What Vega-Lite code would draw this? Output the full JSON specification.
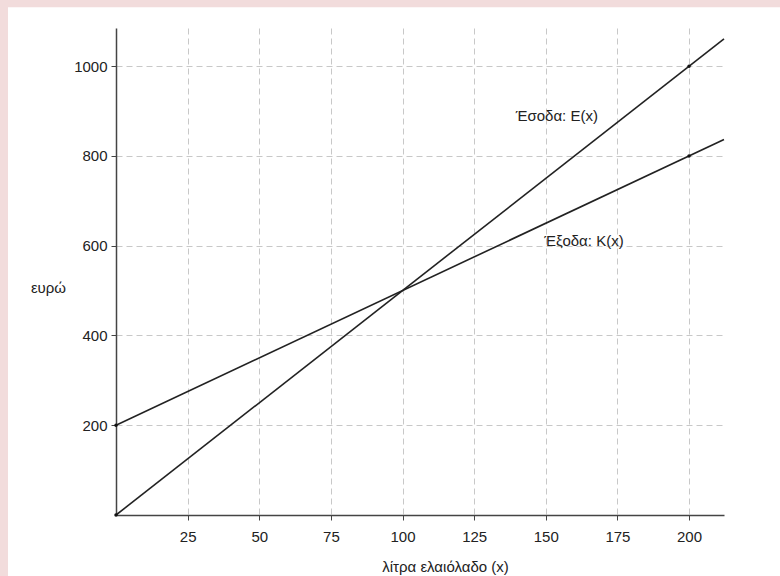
{
  "$schema": "https://vega.github.io/schema/vega-lite/v6.json",
  "width": 608,
  "height": 487,
  "autosize": {"type": "none"},
  "padding": {"left": 116, "top": 28, "right": 56, "bottom": 61},
  "background": "white",
  "config": {
    "view": {"stroke": null},
    "font": "Liberation Sans",
    "axis": {
      "labelFont": "Liberation Sans",
      "labelFontSize": 15,
      "labelColor": "#222",
      "titleFont": "Liberation Sans",
      "titleFontSize": 15,
      "titleFontWeight": "normal",
      "titleColor": "#222",
      "domainColor": "#444",
      "domainWidth": 1.5,
      "tickColor": "#444",
      "tickSize": 5,
      "gridColor": "#c8c8c8",
      "gridDash": [6, 4],
      "gridWidth": 1
    }
  },
  "datasets": {
    "lines": [
      {"series": "E", "x": 0, "y": 0},
      {"series": "E", "x": 212.2, "y": 1061},
      {"series": "K", "x": 0, "y": 200},
      {"series": "K", "x": 212.2, "y": 836.6}
    ],
    "points": [
      {"x": 0, "y": 0},
      {"x": 0, "y": 200},
      {"x": 200, "y": 1000},
      {"x": 200, "y": 800}
    ],
    "labels": [
      {"x": 139.5, "y": 890, "text": "Έσοδα: Ε(x)"},
      {"x": 149.5, "y": 610, "text": "Έξοδα: Κ(x)"}
    ],
    "frame": [
      {"x": -60, "x2": -37.7, "y": -300, "y2": 1400},
      {"x": -60, "x2": 300, "y": 1131.4, "y2": 1400}
    ]
  },
  "layer": [
    {
      "data": {"name": "frame"},
      "mark": {"type": "rect", "fill": "#f2dcdc", "stroke": null},
      "encoding": {
        "x": {"field": "x", "type": "quantitative", "scale": {"domain": [0, 212.2], "nice": false, "zero": false},
              "axis": {"values": [25, 50, 75, 100, 125, 150, 175, 200], "format": "d", "grid": true, "labelPadding": 9,
                       "title": "λίτρα ελαιόλαδο (x)", "titleX": 329, "titleY": 51, "titleBaseline": "middle", "titleAnchor": null, "titleAlign": "center"}},
        "x2": {"field": "x2"},
        "y": {"field": "y", "type": "quantitative", "scale": {"domain": [0, 1085], "nice": false, "zero": false},
              "axis": {"values": [200, 400, 600, 800, 1000], "format": "d", "grid": true, "labelPadding": 4,
                       "title": "ευρώ", "titleAngle": 0, "titleX": -68, "titleY": 259, "titleAlign": "center", "titleBaseline": "middle", "titleAnchor": null}},
        "y2": {"field": "y2"}
      }
    },
    {
      "data": {"name": "lines"},
      "mark": {"type": "line", "color": "#222", "strokeWidth": 1.6},
      "encoding": {
        "x": {"field": "x", "type": "quantitative"},
        "y": {"field": "y", "type": "quantitative"},
        "detail": {"field": "series"}
      }
    },
    {
      "data": {"name": "points"},
      "mark": {"type": "point", "filled": true, "color": "#111", "size": 12, "opacity": 1},
      "encoding": {
        "x": {"field": "x", "type": "quantitative"},
        "y": {"field": "y", "type": "quantitative"}
      }
    },
    {
      "data": {"name": "labels"},
      "mark": {"type": "text", "align": "left", "baseline": "middle", "fontSize": 15, "color": "#222", "font": "Liberation Sans"},
      "encoding": {
        "x": {"field": "x", "type": "quantitative"},
        "y": {"field": "y", "type": "quantitative"},
        "text": {"field": "text"}
      }
    }
  ]
}
